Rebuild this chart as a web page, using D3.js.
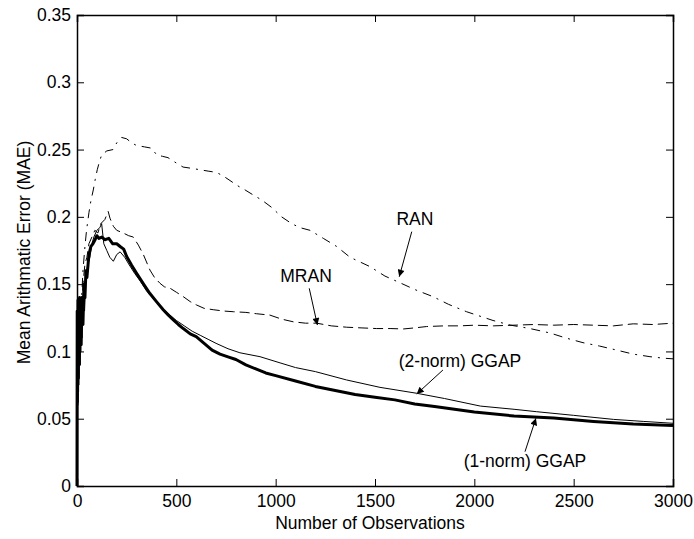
<!DOCTYPE html>
<html><head><meta charset="utf-8">
<script src="https://cdn.jsdelivr.net/npm/d3@7"></script>
<style>
html,body{margin:0;padding:0;background:#fff;}
text{font-family:"Liberation Sans",Arial,Helvetica,sans-serif;fill:#000;}
</style></head>
<body><svg id="chart" width="694" height="539"></svg>
<script>
// ---- data ----
const xTicks = [0, 500, 1000, 1500, 2000, 2500, 3000];
const yTicks = [0, 0.05, 0.1, 0.15, 0.2, 0.25, 0.3, 0.35];

const norm1Obs = [0,1,3,5,7,9,11,13,15,18,21,25,30,35,40,45,50,60,70,80,91,100,110,125,140,160,180,200,217,235,250,275,300,335,367,400,434,460,485,510,535,570,600,640,680,720,760,800,850,900,950,1000,1100,1200,1300,1400,1500,1600,1700,1800,1900,2000,2200,2400,2600,2800,3000];
const norm1Val = [0,0.13,0.07,0.138,0.08,0.135,0.09,0.14,0.1,0.13,0.105,0.14,0.12,0.15,0.14,0.16,0.155,0.172,0.178,0.18,0.183,0.186,0.184,0.185,0.183,0.184,0.18,0.18,0.178,0.176,0.1705,0.164,0.158,0.15,0.143,0.137,0.131,0.127,0.1234,0.12,0.117,0.113,0.111,0.106,0.101,0.098,0.096,0.094,0.09,0.087,0.084,0.082,0.078,0.074,0.071,0.068,0.066,0.064,0.061,0.059,0.057,0.055,0.052,0.0505,0.048,0.046,0.045];

const norm2Obs = [0,2,4,6,9,12,16,20,25,30,38,45,55,65,75,85,100,115,124,135,150,165,183,200,217,240,260,290,320,350,380,420,460,500,540,580,620,660,700,760,820,921,1022,1100,1200,1357,1525,1710,1850,2030,2200,2314,2500,2700,2850,3000];
const norm2Val = [0,0.1,0.06,0.12,0.075,0.13,0.09,0.125,0.11,0.135,0.13,0.155,0.165,0.17,0.18,0.185,0.19,0.192,0.195,0.18,0.175,0.17,0.167,0.172,0.174,0.17,0.165,0.158,0.152,0.145,0.14,0.133,0.128,0.123,0.119,0.115,0.112,0.109,0.106,0.102,0.099,0.0961,0.0915,0.088,0.085,0.0788,0.0733,0.0689,0.065,0.0594,0.057,0.0552,0.0525,0.0495,0.048,0.0466];

const mranObs = [0,2,5,8,12,16,22,30,40,50,60,75,90,105,120,140,157,166,183,200,233,260,283,309,334,367,390,418,440,468,500,535,570,602,640,686,740,787,850,904,971,1030,1089,1150,1206,1280,1357,1430,1508,1580,1643,1700,1760,1850,1928,2000,2095,2200,2300,2400,2500,2600,2700,2800,2900,3000];
const mranVal = [0,0.09,0.07,0.12,0.1,0.13,0.12,0.15,0.165,0.17,0.18,0.185,0.19,0.188,0.195,0.198,0.204,0.199,0.193,0.19,0.188,0.186,0.185,0.179,0.172,0.1605,0.155,0.1506,0.148,0.147,0.144,0.1407,0.137,0.1345,0.132,0.131,0.13,0.1295,0.129,0.128,0.127,0.124,0.122,0.121,0.121,0.119,0.118,0.1175,0.117,0.117,0.1167,0.1175,0.1185,0.119,0.119,0.1195,0.119,0.1195,0.12,0.1195,0.12,0.1195,0.119,0.1205,0.12,0.121];

const ranObs = [0,3,6,10,15,20,30,40,48,60,70,82,92,102,113,124,150,181,200,225,250,275,300,340,376,401,430,458,500,534,580,619,660,703,740,770,810,846,890,930,980,1030,1080,1122,1173,1240,1307,1374,1475,1550,1626,1700,1792,1870,1961,2094,2180,2280,2381,2460,2547,2630,2716,2800,2884,2950,3000];
const ranVal = [0,0.08,0.06,0.1,0.12,0.13,0.16,0.178,0.19,0.203,0.212,0.22,0.228,0.235,0.241,0.246,0.249,0.25,0.255,0.259,0.258,0.255,0.253,0.252,0.251,0.246,0.245,0.244,0.24,0.237,0.236,0.235,0.234,0.233,0.23,0.227,0.223,0.22,0.216,0.2125,0.207,0.2,0.195,0.192,0.19,0.184,0.178,0.17,0.163,0.156,0.151,0.146,0.1407,0.135,0.1295,0.123,0.1196,0.117,0.1137,0.11,0.1065,0.104,0.101,0.098,0.0961,0.095,0.0945];

const labels = ["RAN", "MRAN", "(2-norm) GGAP", "(1-norm) GGAP"];
const labelObs = [1701, 1153, 1928, 2255];
const labelVal = [0.194, 0.1516, 0.0884, 0.0141];
const arrowFromObs = [1685, 1169, 1842, 2255];
const arrowFromVal = [0.189, 0.1469, 0.0862, 0.0255];
const arrowToObs = [1622, 1210, 1710, 2310];
const arrowToVal = [0.1555, 0.1196, 0.0684, 0.0503];

// ---- layout ----
const svg = d3.select("#chart");
const m = {left: 77, top: 15, right: 21, bottom: 53};
const W = 694 - m.left - m.right, H = 539 - m.top - m.bottom;
const x = d3.scaleLinear().domain([0, 3000]).range([0, W]);
const y = d3.scaleLinear().domain([0, 0.35]).range([H, 0]);
const g = svg.append("g").attr("transform", `translate(${m.left},${m.top})`);
const FS = "17.5px";

const fmtY = d => d === 0 ? "0" : String(+d.toFixed(2));

// curves
const line = d3.line().x(d => x(d[0])).y(d => y(d[1]));
const zip = (a, b) => a.map((v, i) => [v, b[i]]);
const series = [
  {data: zip(ranObs, ranVal), w: 1, dash: "9,6,2,6"},
  {data: zip(mranObs, mranVal), w: 1, dash: "10,5"},
  {data: zip(norm2Obs, norm2Val), w: 1, dash: null},
  {data: zip(norm1Obs, norm1Val), w: 3, dash: null}
];
series.forEach(s => {
  g.append("path").datum(s.data).attr("d", line)
    .attr("fill", "none").attr("stroke", "#000")
    .attr("stroke-width", s.w).attr("stroke-linejoin", "round")
    .attr("stroke-dasharray", s.dash);
});

// axes (ticks inward, box)
const tl = 7;
const axB = g.append("g").attr("transform", `translate(0,${H})`)
  .call(d3.axisBottom(x).tickValues(xTicks).tickSize(-tl).tickPadding(9).tickFormat(d3.format("d")));
const axL = g.append("g")
  .call(d3.axisLeft(y).tickValues(yTicks).tickSize(-tl).tickPadding(6).tickFormat(fmtY));
const axT = g.append("g")
  .call(d3.axisTop(x).tickValues(xTicks).tickSize(-tl).tickFormat(""));
const axR = g.append("g").attr("transform", `translate(${W},0)`)
  .call(d3.axisRight(y).tickValues(yTicks).tickSize(-tl).tickFormat(""));
[axB, axL, axT, axR].forEach(a => {
  a.select(".domain").attr("stroke", "#000").attr("stroke-width", 1.5);
  a.selectAll(".tick line").attr("stroke", "#000").attr("stroke-width", 1);
  a.selectAll("text").style("font-size", FS).style("font-family", '"Liberation Sans", Arial, sans-serif').attr("fill", "#000");
});

// axis titles
svg.append("text").attr("x", m.left + W / 2 - 5).attr("y", 529)
  .attr("text-anchor", "middle").style("font-size", FS).text("Number of Observations");
svg.append("text").attr("transform", `translate(30,${m.top + H / 2 + 2}) rotate(-90)`)
  .attr("text-anchor", "middle").style("font-size", FS).text("Mean Arithmatic Error (MAE)");

// annotations
svg.append("defs").append("marker").attr("id", "ah")
  .attr("viewBox", "0 0 10 10").attr("refX", 10).attr("refY", 5)
  .attr("markerWidth", 11).attr("markerHeight", 7).attr("markerUnits", "userSpaceOnUse")
  .attr("orient", "auto")
  .append("path").attr("d", "M0,0 L10,5 L0,10 z").attr("fill", "#000");
labels.forEach((t, i) => {
  g.append("text").attr("x", x(labelObs[i])).attr("y", y(labelVal[i]))
    .attr("text-anchor", "middle").style("font-size", FS).text(t);
  g.append("line")
    .attr("x1", x(arrowFromObs[i])).attr("y1", y(arrowFromVal[i]))
    .attr("x2", x(arrowToObs[i])).attr("y2", y(arrowToVal[i]))
    .attr("stroke", "#000").attr("stroke-width", 1).attr("marker-end", "url(#ah)");
});
</script></body></html>
